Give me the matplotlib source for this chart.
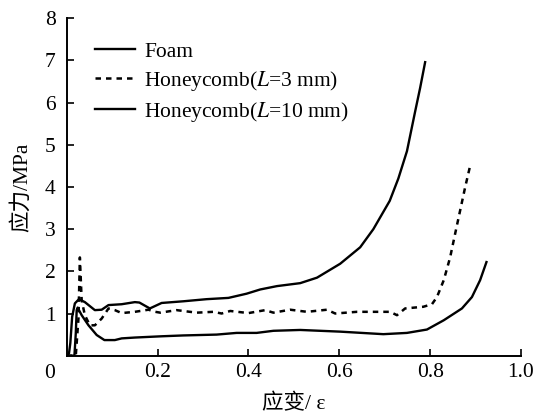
import matplotlib
matplotlib.use("Agg")
import matplotlib.pyplot as plt

plt.rcParams['font.family'] = ['Liberation Serif', 'Noto Sans CJK SC', 'DejaVu Sans']
plt.rcParams['mathtext.fontset'] = 'stix'

# 泡沫
foam_x = [0, 0.005, 0.008, 0.012, 0.018, 0.027, 0.040, 0.062, 0.077, 0.092, 0.121, 0.150,
          0.160, 0.183, 0.209, 0.257, 0.308, 0.356, 0.396, 0.426, 0.463, 0.514, 0.551,
          0.602, 0.646, 0.675, 0.711, 0.730, 0.749, 0.767, 0.778, 0.789]
foam_y = [0, 0.05, 0.3, 0.92, 1.24, 1.34, 1.27, 1.08, 1.09, 1.20, 1.22, 1.27,
          1.26, 1.12, 1.25, 1.29, 1.34, 1.37, 1.47, 1.57, 1.65, 1.72, 1.85,
          2.18, 2.57, 3.0, 3.67, 4.2, 4.85, 5.79, 6.35, 6.96]

# 蜂窝 L=3 mm
hc3_x = [0, 0.02, 0.026, 0.029, 0.033, 0.040, 0.051, 0.062, 0.077, 0.092, 0.106, 0.121,
         0.150, 0.180, 0.195, 0.206, 0.242, 0.286, 0.323, 0.341, 0.360, 0.400, 0.437,
         0.455, 0.492, 0.529, 0.573, 0.591, 0.639, 0.712, 0.727, 0.745, 0.785, 0.804,
         0.815, 0.830, 0.844, 0.855, 0.866, 0.877, 0.888]
hc3_y = [0, 0, 0.9, 2.33, 1.31, 0.96, 0.72, 0.72, 0.88, 1.12, 1.08, 1.01,
         1.04, 1.09, 1.04, 1.02, 1.08, 1.02, 1.04, 1.00, 1.06, 1.01, 1.08,
         1.02, 1.09, 1.04, 1.09, 1.00, 1.04, 1.04, 0.96, 1.12, 1.16, 1.22,
         1.39, 1.79, 2.33, 2.89, 3.44, 3.99, 4.5]

# 蜂窝 L=10 mm
hc10_x = [0, 0.017, 0.020, 0.022, 0.024, 0.033, 0.048, 0.066, 0.083, 0.106, 0.121, 0.150,
          0.209, 0.257, 0.330, 0.374, 0.418, 0.455, 0.514, 0.602, 0.697, 0.749, 0.793,
          0.830, 0.870, 0.892, 0.910, 0.924]
hc10_y = [0, 0, 0.53, 1.08, 1.14, 0.96, 0.72, 0.49, 0.37, 0.37, 0.41, 0.43,
          0.46, 0.48, 0.50, 0.54, 0.54, 0.59, 0.61, 0.57, 0.51, 0.54, 0.62,
          0.84, 1.12, 1.39, 1.79, 2.22]

labels = ['Foam', 'Honeycomb($L$=3 mm)', 'Honeycomb($L$=10 mm)']
x_ticks = [0.2, 0.4, 0.6, 0.8, 1.0]
x_ticklabels = ['0.2', '0.4', '0.6', '0.8', '1.0']
y_ticks = [1, 2, 3, 4, 5, 6, 7, 8]

fs = 15.5

fig = plt.figure(figsize=(5.44, 4.16), dpi=100)
ax = fig.add_axes([0.1226, 0.145, 0.8351, 0.811])

ax.plot(foam_x, foam_y, color='black', lw=1.7, label=labels[0])
ax.plot(hc3_x, hc3_y, color='black', lw=1.8, linestyle=(0, (2.2, 2.0)), label=labels[1])
ax.plot(hc10_x, hc10_y, color='black', lw=1.7, label=labels[2])

ax.set_xlim(0, 1.0)
ax.set_ylim(0, 8)
ax.set_xticks(x_ticks)
ax.set_xticklabels(x_ticklabels)
ax.set_yticks(y_ticks)

ax.spines['top'].set_visible(False)
ax.spines['right'].set_visible(False)
ax.spines['left'].set_linewidth(1.4)
ax.spines['bottom'].set_linewidth(1.4)
ax.tick_params(direction='in', length=5, width=1.2, labelsize=fs)
ax.tick_params(axis='x', pad=5)
ax.tick_params(axis='y', pad=8)

# 原点的 0
ax.annotate('0', xy=(0, 0), xytext=(-12, -12.5), textcoords='offset points',
            ha='center', va='center', fontsize=fs)

ax.set_xlabel('应变/ ε', fontsize=fs, labelpad=9)
ax.set_ylabel('应力/MPa', fontsize=fs, labelpad=9)

ax.legend(loc='upper left', bbox_to_anchor=(0.062, 0.93), frameon=False,
          fontsize=fs, handlelength=1.85, handletextpad=0.45,
          labelspacing=0.32, borderpad=0, borderaxespad=0)

fig.savefig('out.png', dpi=100)
